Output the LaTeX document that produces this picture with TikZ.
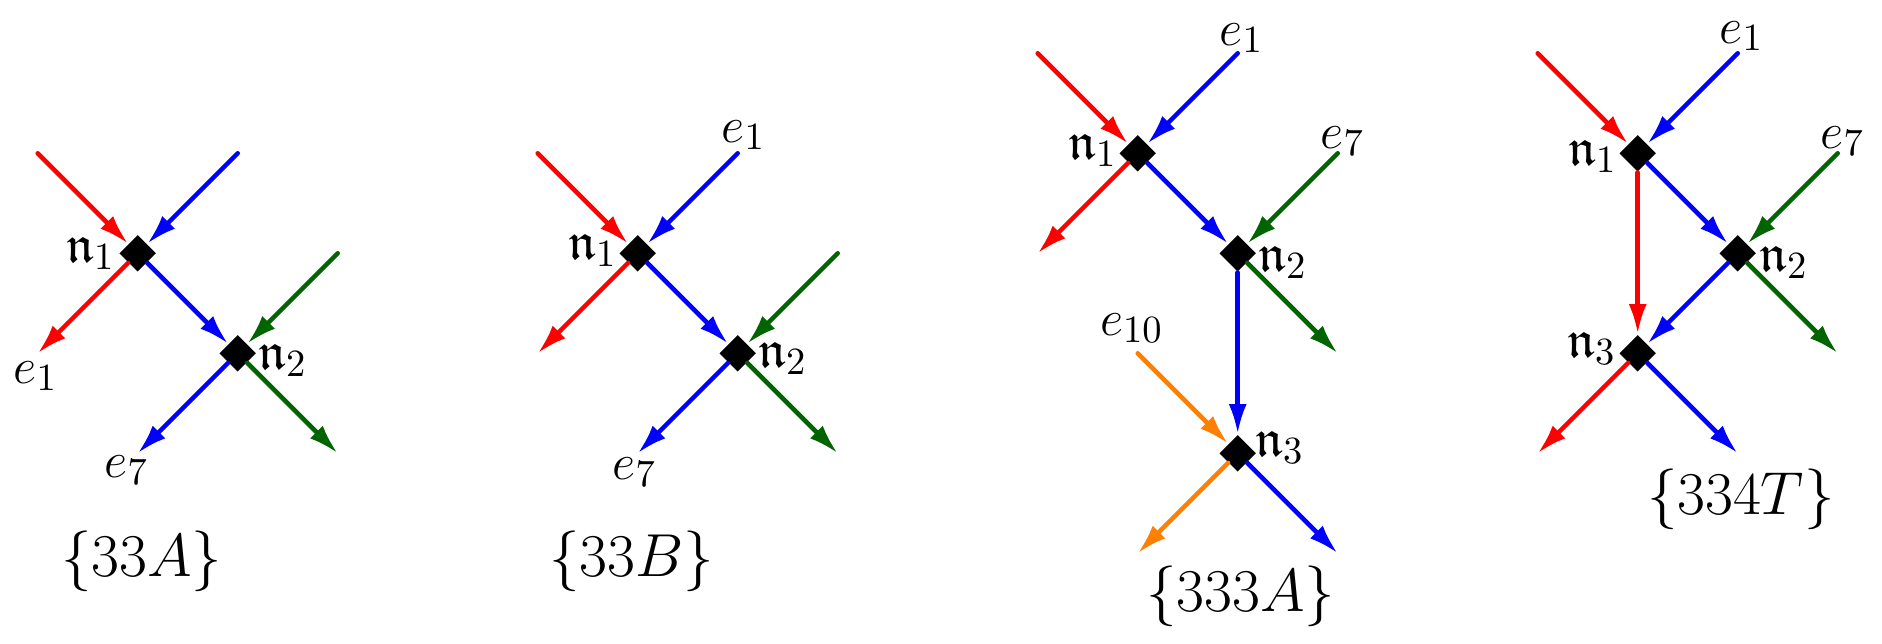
\documentclass[tikz,border=0pt]{standalone}
\usepackage{amsmath, amssymb, amsfonts, xcolor, tikz}
\usetikzlibrary{positioning, arrows.meta, shapes.geometric}

\definecolor{dgreen}{RGB}{0,100,0}
\definecolor{dorange}{RGB}{255,128,0}

\tikzset{
  vertex/.style={diamond, fill=black, inner sep=0pt, minimum size=0.37cm},
  wire/.style={line width=1.3pt, line cap=round, -{Latex[length=0.3cm,width=0.18cm]}},
  lab/.style={font=\fontsize{15}{18}\selectfont, inner sep=0pt},
  setlab/.style={font=\fontsize{16.5}{20}\selectfont, inner sep=0pt}
}

\begin{document}
\begin{tikzpicture}[on grid]
\useasboundingbox (0,0) rectangle (18.82,6.44);
%Each diagram is a set of diamond vertices n_i, placed one
% unit apart on the diagonal, and every vertex has two lines
% coming in and two going out. Free ends are coordinates.

% diagram {33A}
\node[vertex] (a1) at (1.377,3.907) {};
\node[vertex, below right=1cm and 1cm of a1] (a2) {};
\coordinate[above left=1cm and 1cm of a1] (a1r);
\coordinate[above right=1cm and 1cm of a1] (a1b);
\coordinate[below left=1cm and 1cm of a1] (a1o);
\coordinate[above right=1cm and 1cm of a2] (a2g);
\coordinate[below right=1cm and 1cm of a2] (a2go);
\coordinate[below left=1cm and 1cm of a2] (a2o);
\draw[wire, red] (a1r) -- (a1);
\draw[wire, blue] (a1b) -- (a1);
\draw[wire, red] (a1) -- (a1o);
\draw[wire, blue] (a1) -- (a2);
\draw[wire, dgreen] (a2g) -- (a2);
\draw[wire, dgreen] (a2) -- (a2go);
\draw[wire, blue] (a2) -- (a2o);
\node[lab, left=0.47cm of a1] (a1l) {$\mathfrak{n}_1$};
\node[lab, below right=0.07cm and 0.45cm of a2] (a2l) {$\mathfrak{n}_2$};
\node[lab, below left=1.23cm and 1.02cm of a1] (a1e) {$e_1$};
\node[lab, below left=1.17cm and 1.11cm of a2] (a2e) {$e_7$};
\node[setlab, below left=2.08cm and 0.96cm of a2] (aset) {$\{33A\}$};

% diagram {33B}
\node[vertex] (b1) at (6.377,3.907) {};
\node[vertex, below right=1cm and 1cm of b1] (b2) {};
\coordinate[above left=1cm and 1cm of b1] (b1r);
\coordinate[above right=1cm and 1cm of b1] (b1b);
\coordinate[below left=1cm and 1cm of b1] (b1o);
\coordinate[above right=1cm and 1cm of b2] (b2g);
\coordinate[below right=1cm and 1cm of b2] (b2go);
\coordinate[below left=1cm and 1cm of b2] (b2o);
\draw[wire, red] (b1r) -- (b1);
\draw[wire, blue] (b1b) -- (b1);
\draw[wire, red] (b1) -- (b1o);
\draw[wire, blue] (b1) -- (b2);
\draw[wire, dgreen] (b2g) -- (b2);
\draw[wire, dgreen] (b2) -- (b2go);
\draw[wire, blue] (b2) -- (b2o);
\node[lab, above left=0.03cm and 0.45cm of b1] (b1l) {$\mathfrak{n}_1$};
\node[lab, below right=0.05cm and 0.45cm of b2] (b2l) {$\mathfrak{n}_2$};
\node[lab, above right=1.18cm and 1.06cm of b1] (b1e) {$e_1$};
\node[lab, below left=1.19cm and 1.03cm of b2] (b2e) {$e_7$};
\node[setlab, below left=2.08cm and 1.06cm of b2] (bset) {$\{33B\}$};

% diagram {333A}
\node[vertex] (c1) at (11.377,4.907) {};
\node[vertex, below right=1cm and 1cm of c1] (c2) {};
\node[vertex, below=2cm of c2] (c3) {};
\coordinate[above left=1cm and 1cm of c1] (c1r);
\coordinate[above right=1cm and 1cm of c1] (c1b);
\coordinate[below left=1cm and 1cm of c1] (c1o);
\coordinate[above right=1cm and 1cm of c2] (c2g);
\coordinate[below right=1cm and 1cm of c2] (c2go);
\coordinate[above left=1cm and 1cm of c3] (c3y);
\coordinate[below left=1cm and 1cm of c3] (c3yo);
\coordinate[below right=1cm and 1cm of c3] (c3o);
\draw[wire, red] (c1r) -- (c1);
\draw[wire, blue] (c1b) -- (c1);
\draw[wire, red] (c1) -- (c1o);
\draw[wire, blue] (c1) -- (c2);
\draw[wire, dgreen] (c2g) -- (c2);
\draw[wire, dgreen] (c2) -- (c2go);
\draw[wire, blue] (c2) -- (c3);
\draw[wire, dorange] (c3y) -- (c3);
\draw[wire, dorange] (c3) -- (c3yo);
\draw[wire, blue] (c3) -- (c3o);
\node[lab, above left=0.03cm and 0.45cm of c1] (c1l) {$\mathfrak{n}_1$};
\node[lab, below right=0.09cm and 0.45cm of c2] (c2l) {$\mathfrak{n}_2$};
\node[lab, above right=0.06cm and 0.42cm of c3] (c3l) {$\mathfrak{n}_3$};
\node[lab, above right=1.15cm and 1.04cm of c1] (c1e) {$e_1$};
\node[lab, above right=1.12cm and 1.05cm of c2] (c2e) {$e_7$};
\node[lab, above left=1.25cm and 1.06cm of c3] (c3e) {$e_{10}$};
\node[setlab, below right=1.43cm and 0.03cm of c3] (cset) {$\{333A\}$};

% diagram {334T}
\node[vertex] (d1) at (16.377,4.907) {};
\node[vertex, below right=1cm and 1cm of d1] (d2) {};
\node[vertex, below=2cm of d1] (d3) {};
\coordinate[above left=1cm and 1cm of d1] (d1r);
\coordinate[above right=1cm and 1cm of d1] (d1b);
\coordinate[above right=1cm and 1cm of d2] (d2g);
\coordinate[below right=1cm and 1cm of d2] (d2go);
\coordinate[below left=1cm and 1cm of d3] (d3ro);
\coordinate[below right=1cm and 1cm of d3] (d3o);
\draw[wire, red] (d1r) -- (d1);
\draw[wire, blue] (d1b) -- (d1);
\draw[wire, red] (d1) -- (d3);
\draw[wire, blue] (d1) -- (d2);
\draw[wire, dgreen] (d2g) -- (d2);
\draw[wire, dgreen] (d2) -- (d2go);
\draw[wire, blue] (d2) -- (d3);
\draw[wire, red] (d3) -- (d3ro);
\draw[wire, blue] (d3) -- (d3o);
\node[lab, below left=0.03cm and 0.45cm of d1] (d1l) {$\mathfrak{n}_1$};
\node[lab, below right=0.09cm and 0.46cm of d2] (d2l) {$\mathfrak{n}_2$};
\node[lab, above left=0.05cm and 0.46cm of d3] (d3l) {$\mathfrak{n}_3$};
\node[lab, above right=1.17cm and 1.04cm of d1] (d1e) {$e_1$};
\node[lab, above right=1.12cm and 1.05cm of d2] (d2e) {$e_7$};
\node[setlab, below right=1.46cm and 1.03cm of d3] (dset) {$\{334T\}$};
\end{tikzpicture}
\end{document}
